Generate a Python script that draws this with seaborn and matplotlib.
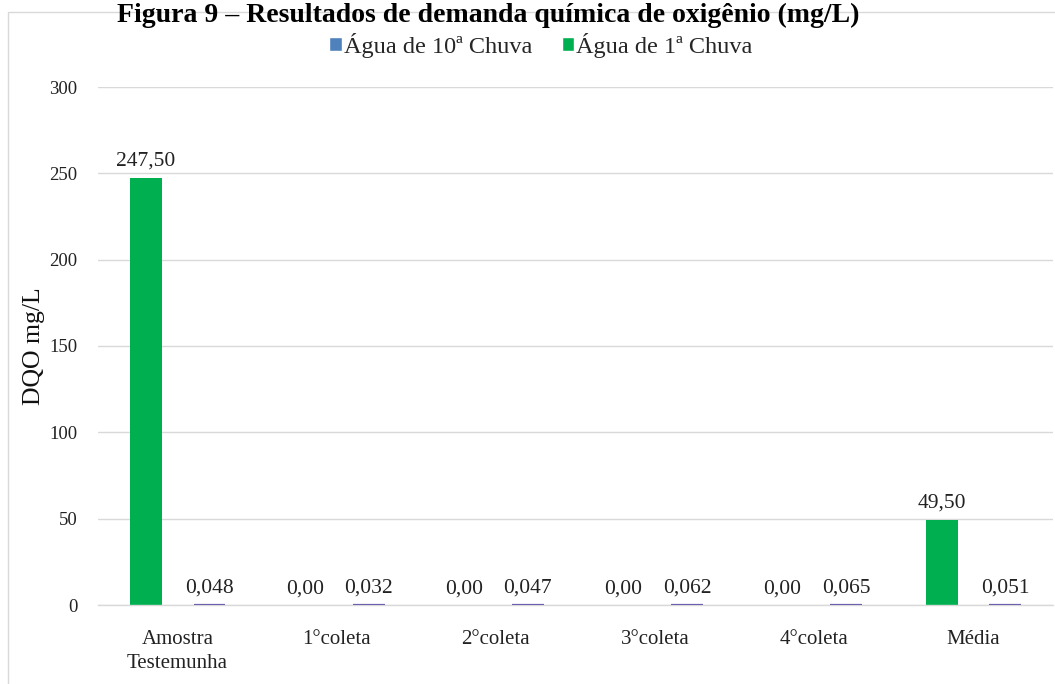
import matplotlib
matplotlib.use("Agg")
import matplotlib.pyplot as plt
from matplotlib.patches import Patch, Rectangle
import seaborn as sns
import pandas as pd

categories = ["Amostra\nTestemunha", "1°coleta", "2°coleta", "3°coleta", "4°coleta", "Média"]
series_names = ["Água de 1ª Chuva", "Água de 10ª Chuva"]
chuva_1 = [247.50, 0.00, 0.00, 0.00, 0.00, 49.50]
chuva_10 = [0.048, 0.032, 0.047, 0.062, 0.065, 0.051]
yticks = [0, 50, 100, 150, 200, 250, 300]

colors = {"Água de 1ª Chuva": "#00B050", "Água de 10ª Chuva": "#4F81BD"}

df = pd.DataFrame({
    "categoria": categories * 2,
    "serie": [series_names[0]] * len(categories) + [series_names[1]] * len(categories),
    "valor": chuva_1 + chuva_10,
})

sns.set_theme(style="white")
plt.rcParams["font.family"] = ["Liberation Serif", "DejaVu Serif"]

W, H = 1055, 684
fig = plt.figure(figsize=(W / 100, H / 100), dpi=100)
ax = fig.add_axes([98 / W, 1 - 605 / H, (1053 - 98) / W, (605 - 87) / H])

sns.barplot(data=df, x="categoria", y="valor", hue="serie", hue_order=series_names,
            order=categories, palette=colors, width=0.8, gap=0.5, ax=ax,
            legend=False, linewidth=0, saturation=1)

# thin outline on tiny blue bars
for bar in ax.containers[1]:
    bar.set_edgecolor("#6F5FB0")
    bar.set_linewidth(1.6)
    bar.set_zorder(4)

ax.bar_label(ax.containers[0], labels=[f"{v:.2f}".replace(".", ",") for v in chuva_1],
             padding=5, fontsize=15.5, color="#222222")
ax.bar_label(ax.containers[1], labels=[f"{v:.3f}".replace(".", ",") for v in chuva_10],
             padding=5, fontsize=15.5, color="#222222")

ax.set_ylim(0, 300)
ax.set_xlim(-0.5, len(categories) - 0.5)
ax.set_yticks(yticks)
ax.set_yticklabels([str(t) for t in yticks], fontsize=13.5, color="#222222")
ax.tick_params(axis="x", labelsize=15, colors="#222222", pad=18, length=0)
ax.tick_params(axis="y", pad=15, length=0)
for lbl in ax.get_xticklabels():
    lbl.set_linespacing(1.35)
ax.set_xlabel("")
ax.set_ylabel("DQO mg/L", fontsize=18.5, color="#111111")
ax.yaxis.set_label_coords(-0.056, 0.5)

ax.grid(axis="y", color="#D9D9D9", linewidth=1)
ax.set_axisbelow(True)
for s in ["top", "right", "left"]:
    ax.spines[s].set_visible(False)
ax.spines["bottom"].set_color("#D9D9D9")
ax.spines["bottom"].set_linewidth(1)

handles = [Patch(facecolor=colors[series_names[1]], label=series_names[1]),
           Patch(facecolor=colors[series_names[0]], label=series_names[0])]
fig.legend(handles=handles, loc="center", bbox_to_anchor=(541 / W, 1 - 45 / H), ncol=2,
           frameon=False, fontsize=17.5, handlelength=0.5, handleheight=0.55,
           handletextpad=0.1, columnspacing=1.2)

fig.text(488 / W, 1 - 3 / H, "Figura 9 – Resultados de demanda química de oxigênio (mg/L)",
         ha="center", va="top", fontsize=20, fontweight="bold", color="#000000")

fig.add_artist(Rectangle((8 / W, -0.05), 1.0, 1.05 - 12 / H, transform=fig.transFigure,
                         fill=False, edgecolor="#D9D9D9", linewidth=1, clip_on=False))

fig.savefig("out.png", dpi=100)
